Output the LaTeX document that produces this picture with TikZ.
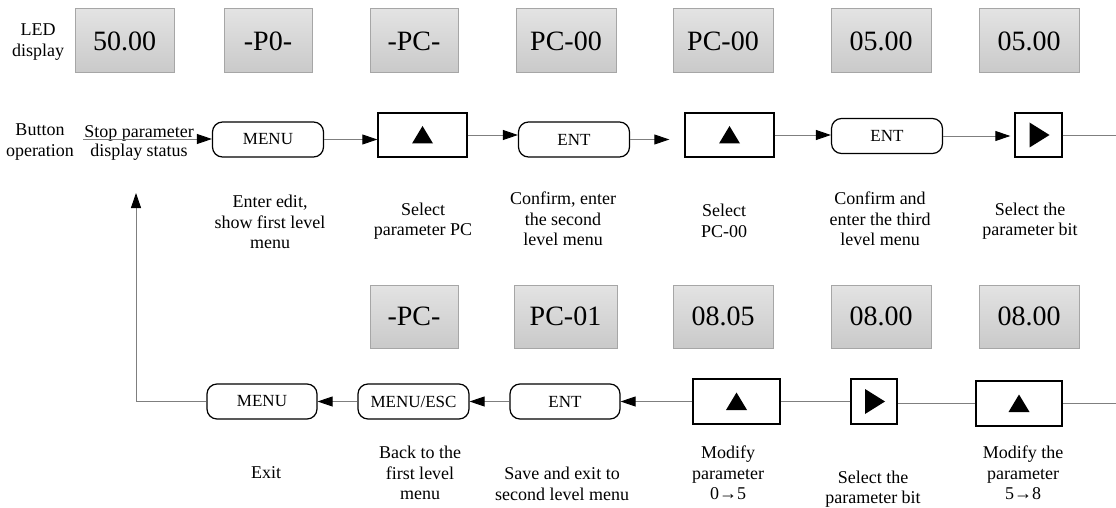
\documentclass[tikz,border=0pt]{standalone}
\usepackage{fontspec}
\setmainfont{Liberation Serif}
\usetikzlibrary{arrows.meta}
\definecolor{linegray}{HTML}{7F7F7F}
\definecolor{ledborder}{HTML}{A6A6A6}
\tikzset{
  led/.style={draw=ledborder, line width=1pt, top color=black!11, bottom color=black!21,
    inner sep=0pt, minimum height=64pt, font=\fontsize{28}{30}\selectfont},
  btnround/.style={draw=black, line width=1.2pt, rounded corners=10pt, inner sep=0pt,
    minimum width=111pt, minimum height=35pt, font=\fontsize{17}{19}\selectfont},
  btnsquare/.style={draw=black, line width=1.4pt, inner sep=0pt, minimum height=44pt},
  lbl/.style={align=center, inner sep=0pt, font=\fontsize{18}{20.5}\selectfont},
  conn/.style={draw=linegray, line width=0.9pt},
  arr/.style={conn, -{Triangle[length=15pt,width=10pt,color=black]}},
}
\newcommand\UpTri[1]{\fill ([shift={(-10.5,8.5)}]#1.center) -- ([shift={(10.5,8.5)}]#1.center) -- ([shift={(0,-9)}]#1.center) -- cycle;}
\newcommand\RightTri[1]{\fill ([shift={(-9,-12.5)}]#1.center) -- ([shift={(-9,12.5)}]#1.center) -- ([shift={(11,0)}]#1.center) -- cycle;}
\begin{document}
\begin{tikzpicture}[x=1pt,y=-1pt]
\useasboundingbox (0,0) rectangle (1116,508);
% ---- row 1 LED displays
\node[lbl] (ledlbl) at (38,42) {LED\\display};
\node[led, minimum width=99pt] (d1) at (124.5,41) {50.00};
\node[led, minimum width=88pt] (d2) at (268,41) {-P0-};
\node[led, minimum width=88pt] (d3) at (414,41) {-PC-};
\node[led, minimum width=100pt] (d4) at (566,41) {PC-00};
\node[led, minimum width=100pt] (d5) at (723,41) {PC-00};
\node[led, minimum width=100pt] (d6) at (881,41) {05.00};
\node[led, minimum width=100pt] (d7) at (1029,41) {05.00};
% ---- row 1 buttons
\node[lbl] (btnlbl) at (40,142) {Button\\operation};
\node[lbl, font=\fontsize{18}{19.5}\selectfont] (stop) at (139,143) {Stop parameter\\display status};
\coordinate (s0) at (83,139);
\node[btnround] (b1) at (268,139.5) {MENU};
\node[btnsquare, minimum width=89pt] (b2) at (422.5,135) {};
\node[btnround] (b3) at (574,139.5) {ENT};
\node[btnsquare, minimum width=89pt] (b4) at (729.5,135) {};
\node[btnround] (b5) at (887,136) {ENT};
\node[btnsquare, minimum width=47pt] (b6) at (1038.5,135) {};
\coordinate (e1) at (1116,135);
\UpTri{b2}
\UpTri{b4}
\RightTri{b6}
\draw[arr] (s0) -- (s0 -| b1.west);
\draw[arr] (b1.east) -- (b1.east -| b2.west);
\draw[arr] (b2.east) -- (b2.east -| b3.west);
\draw[arr, shorten >=15pt] (b3.east) -- (b3.east -| b4.west);
\draw[arr] (b4.east) -- (b4.east -| b5.west);
\draw[arr, shorten >=4pt] (b5.east) -- (b5.east -| b6.west);
\draw[conn] (b6.east) -- (e1);
% ---- row 1 labels
\node[lbl] (l1) at (270,222) {Enter edit,\\show first level\\menu};
\node[lbl] (l2) at (423,221) {Select\\parameter PC};
\node[lbl] (l3) at (563,219) {Confirm, enter\\the second\\level menu};
\node[lbl] (l4) at (724,221) {Select\\PC-00};
\node[lbl] (l5) at (880,219) {Confirm and\\enter the third\\level menu};
\node[lbl] (l6) at (1030,221) {Select the\\parameter bit};
% ---- row 2 LED displays
\node[led, minimum width=88pt, minimum height=63pt] (f1) at (414,316.5) {-PC-};
\node[led, minimum width=103pt, minimum height=63pt] (f2) at (565.5,316.5) {PC-01};
\node[led, minimum width=100pt, minimum height=63pt] (f3) at (723,316.5) {08.05};
\node[led, minimum width=100pt, minimum height=63pt] (f4) at (881,316.5) {08.00};
\node[led, minimum width=100pt, minimum height=63pt] (f5) at (1029,316.5) {08.00};
% ---- row 2 buttons
\node[btnround, minimum width=110pt] (c1) at (262,401.5) {MENU};
\node[btnround] (c2) at (413.5,401.5) {MENU/ESC};
\node[btnround, minimum width=110pt] (c3) at (565,401.5) {ENT};
\node[btnsquare, minimum width=87pt, minimum height=45pt] (c4) at (736.5,401.5) {};
\node[btnsquare, minimum width=46pt, minimum height=45pt] (c5) at (874,401.5) {};
\node[btnsquare, minimum width=86pt, minimum height=45pt] (c6) at (1019,403.5) {};
\UpTri{c4}
\RightTri{c5}
\UpTri{c6}
\coordinate (r0) at (1116,403.5);
\coordinate (k1) at (136,401.5);
\coordinate (k2) at (136,193);
\draw[conn] (r0) -- (r0 -| c6.east);
\draw[conn] (c6.west) -- (c6.west -| c5.east);
\draw[conn] (c5.west) -- (c5.west -| c4.east);
\draw[arr] (c4.west) -- (c4.west -| c3.east);
\draw[arr] (c3.west) -- (c2.east);
\draw[arr] (c2.west) -- (c1.east);
\draw[arr] (c1.west) -- (k1) -- (k2);
% ---- row 2 labels
\node[lbl] (m1) at (266,473) {Exit};
\node[lbl] (m2) at (420,473) {Back to the\\first level\\menu};
\node[lbl] (m3) at (562,484) {Save and exit to\\second level menu};
\node[lbl] (m4) at (728,473) {Modify\\parameter\\0→5};
\node[lbl] (m5) at (873,489) {Select the\\parameter bit};
\node[lbl] (m6) at (1023,473) {Modify the\\parameter\\5→8};
\end{tikzpicture}
\end{document}
